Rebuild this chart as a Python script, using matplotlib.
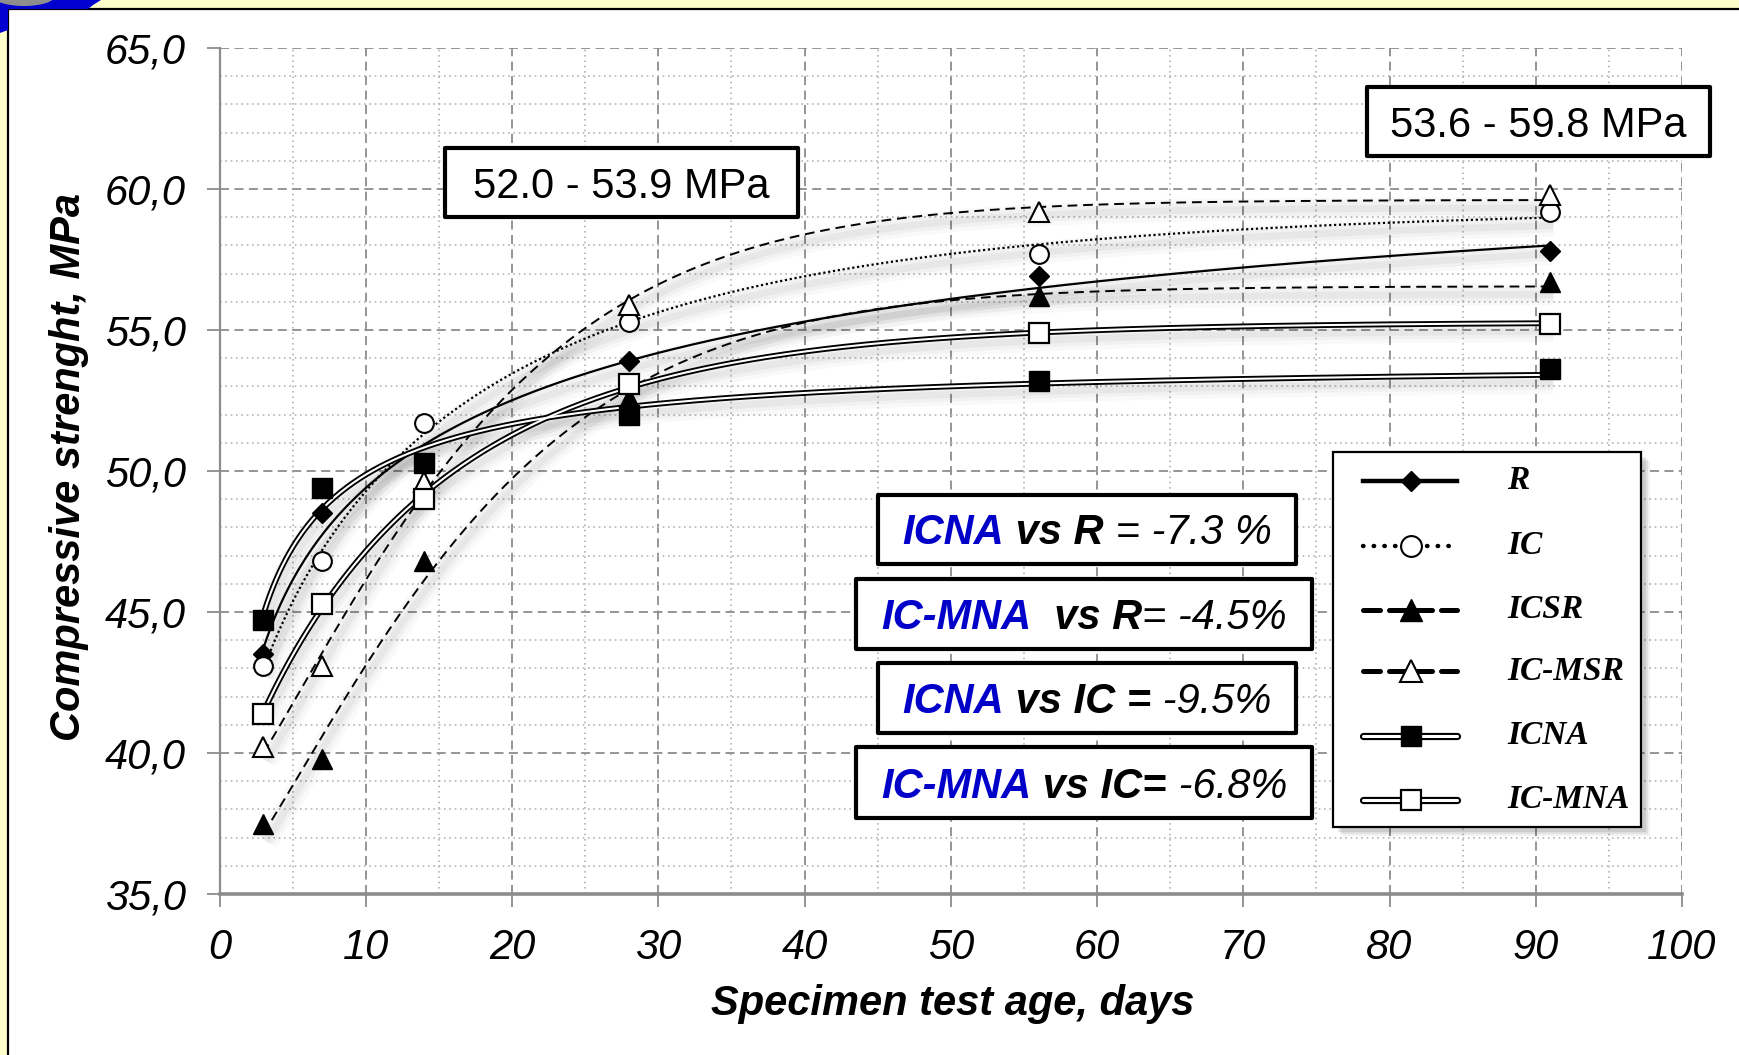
import numpy as np
import matplotlib
matplotlib.use("Agg")
import matplotlib.pyplot as plt
from matplotlib.lines import Line2D
from matplotlib.patches import Rectangle, Polygon, Ellipse
from matplotlib.offsetbox import TextArea, HPacker, AnnotationBbox
from matplotlib.transforms import ScaledTranslation
from matplotlib.ticker import MultipleLocator, FuncFormatter

plt.rcParams["font.family"] = ["Liberation Sans", "DejaVu Sans"]
plt.rcParams["font.style"] = "italic"

# ---------------------------------------------------------------- data
days = [3, 7, 14, 28, 56, 91]
strength_R = [43.5, 48.5, 50.2, 53.9, 56.9, 57.8]
strength_IC = [43.1, 46.8, 51.7, 55.3, 57.7, 59.2]
strength_ICSR = [37.5, 39.8, 46.8, 52.6, 56.2, 56.7]
strength_IC_MSR = [40.2, 43.1, 49.6, 55.9, 59.2, 59.8]
strength_ICNA = [44.7, 49.4, 50.3, 52.0, 53.2, 53.6]
strength_IC_MNA = [41.4, 45.3, 49.0, 53.1, 54.9, 55.2]

series_names = ["R", "IC", "ICSR", "IC-MSR", "ICNA", "IC-MNA"]
series_values = [strength_R, strength_IC, strength_ICSR,
                 strength_IC_MSR, strength_ICNA, strength_IC_MNA]

x_ticks = list(range(0, 101, 10))
y_ticks = [35, 40, 45, 50, 55, 60, 65]

range_labels = ["52.0 - 53.9 MPa", "53.6 - 59.8 MPa"]
comparison_labels = [
    ("ICNA", " vs R", " = -7.3 %"),
    ("IC-MNA", "  vs R", "= -4.5%"),
    ("ICNA", " vs IC =", " -9.5%"),
    ("IC-MNA", " vs IC=", " -6.8%"),
]

# ---------------------------------------------------------------- styles
W, H, DPI = 1739, 1055, 100
BLUE = "#0000C8"
GRID_MAJOR = "#8c8c8c"
GRID_MINOR = "#b4b4b4"


def fx(px):
    return px / W


def fy(py):
    return 1 - py / H


def fit_growth(t, y):
    """Least-squares fit of the saturating law y = a - b * exp(-c * t**p)."""
    t = np.asarray(t, float)
    y = np.asarray(y, float)
    p_grid = np.linspace(0.3, 1.5, 61)[:, None, None]
    c_grid = np.geomspace(0.003, 5.0, 700)[None, :, None]
    g = np.exp(-c_grid * t[None, None, :] ** p_grid)
    gm = g.mean(axis=-1, keepdims=True)
    ym = y.mean()
    cov = ((g - gm) * (y - ym)).sum(axis=-1)
    var = ((g - gm) ** 2).sum(axis=-1)
    var = np.where(var < 1e-12, np.nan, var)
    slope = cov / var
    err = ((y - ym) ** 2).sum() - cov ** 2 / var
    err = np.where(slope < 0, err, np.inf)
    err = np.where(np.isnan(err), np.inf, err)
    i, j = np.unravel_index(np.argmin(err), err.shape)
    p, c = p_grid[i, 0, 0], c_grid[0, j, 0]
    s = slope[i, j]
    a = ym - s * gm[i, j, 0]
    return lambda tt: a + s * np.exp(-c * np.asarray(tt) ** p)


line_styles = {
    "R": dict(kind="single", ls="-", lw=1.6),
    "IC": dict(kind="single", ls=(0, (1, 1.2)), lw=1.6),
    "ICSR": dict(kind="single", ls=(0, (5, 3)), lw=1.4),
    "IC-MSR": dict(kind="single", ls=(0, (5, 3)), lw=1.4),
    "ICNA": dict(kind="double"),
    "IC-MNA": dict(kind="double"),
}
marker_styles = {
    "R": dict(marker="D", ms=10, mfc="black", mec="black", mew=1.0),
    "IC": dict(marker="o", ms=13.5, mfc="white", mec="black", mew=1.5),
    "ICSR": dict(marker="^", ms=14.5, mfc="black", mec="black", mew=1.0),
    "IC-MSR": dict(marker="^", ms=14.5, mfc="white", mec="black", mew=1.5),
    "ICNA": dict(marker="s", ms=14, mfc="black", mec="black", mew=1.0),
    "IC-MNA": dict(marker="s", ms=14, mfc="white", mec="black", mew=1.6),
}

# ---------------------------------------------------------------- figure
fig = plt.figure(figsize=(W / DPI, H / DPI), dpi=DPI, facecolor="#FFFFCC")

# white panel framed on the left and top
panel = Rectangle((fx(8), -0.05), 1.2, 1.05 - 9 / H, transform=fig.transFigure,
                  facecolor="white", edgecolor="black", lw=1.6, zorder=-5)
fig.patches.append(panel)

# corner ornament
corner = Polygon([(fx(0), fy(0)), (fx(101), fy(0)), (fx(93), fy(5)),
                  (fx(88), fy(9)), (fx(8), fy(9)), (fx(8), fy(30)),
                  (fx(0), fy(33))], closed=True, transform=fig.transFigure,
                 facecolor="#0000D0", edgecolor="none", zorder=-4)
fig.patches.append(corner)
logo = Ellipse((fx(24), fy(-4)), 62 / W, 20 / H, transform=fig.transFigure,
               facecolor="#8e8e8e", edgecolor="none", zorder=-3)
fig.patches.append(logo)

ax = fig.add_axes([fx(219.6), fy(894), (1682 - 219.6) / W, (894 - 48) / H])
ax.set_facecolor("none")
ax.set_xlim(0, 100)
ax.set_ylim(35, 65)
ax.set_xticks(x_ticks)
ax.set_yticks(y_ticks)
ax.xaxis.set_minor_locator(MultipleLocator(5))
ax.yaxis.set_minor_locator(MultipleLocator(1))
ax.yaxis.set_major_formatter(FuncFormatter(lambda v, p: f"{v:.1f}".replace(".", ",")))
ax.grid(which="major", color=GRID_MAJOR, ls=(0, (5, 3)), lw=1.3)
ax.grid(which="minor", color=GRID_MINOR, ls=(0, (1, 2.2)), lw=1.2)
ax.set_axisbelow(True)
ax.tick_params(which="minor", length=0)
ax.tick_params(which="major", length=9.5, width=1.3, color=GRID_MAJOR,
               pad=15, labelsize=30)
for side in ("top", "right"):
    ax.spines[side].set_visible(False)
ax.spines["left"].set_color(GRID_MAJOR)
ax.spines["left"].set_linewidth(1.6)
ax.spines["bottom"].set_color(GRID_MAJOR)
ax.spines["bottom"].set_linewidth(2.6)

# ---------------------------------------------------------------- trend curves
t = np.linspace(days[0], days[-1], 400)
shadow_tr = ax.transData + ScaledTranslation(3 / DPI, -8 / DPI, fig.dpi_scale_trans)
for name, vals in zip(series_names, series_values):
    y = fit_growth(days, vals)(t)
    for lw, a in [(16, 0.022), (10, 0.03), (5, 0.04)]:
        ax.plot(t, y, color="black", lw=lw, alpha=a, transform=shadow_tr,
                solid_capstyle="butt", zorder=2)
    st = line_styles[name]
    if st["kind"] == "double":
        ax.plot(t, y, color="black", lw=4.2, solid_capstyle="butt", zorder=3)
        ax.plot(t, y, color="white", lw=1.5, solid_capstyle="butt", zorder=3.1)
    else:
        ax.plot(t, y, color="black", ls=st["ls"], lw=st["lw"], zorder=3)

# ---------------------------------------------------------------- markers
for name, vals in zip(series_names, series_values):
    ax.plot(days, vals, ls="none", zorder=5, **marker_styles[name])

# ---------------------------------------------------------------- axis labels
fig.text(fx(69), fy(467), "Compressive strenght, MPa", rotation=90,
         ha="center", va="center", fontsize=30, fontweight="bold")
fig.text(fx(953), fy(1004), "Specimen test age, days",
         ha="center", va="center", fontsize=30, fontweight="bold")


# ---------------------------------------------------------------- boxes
def framed_box(left, top, right, bottom, lw=3.0):
    r = Rectangle((fx(left + 2), fy(bottom - 2)), (right - left - 4) / W,
                  (bottom - top - 4) / H, transform=fig.transFigure,
                  facecolor="white", edgecolor="black", lw=lw,
                  joinstyle="round", zorder=10)
    fig.add_artist(r)


range_boxes = [(443, 146, 800, 219), (1365, 85, 1712, 158)]
for (l, tp, r, b), lbl in zip(range_boxes, range_labels):
    framed_box(l, tp, r, b)
    fig.text(fx((l + r) / 2), fy((tp + b) / 2 + 15), lbl, ha="center",
             va="baseline", fontsize=30, fontstyle="normal", zorder=11)

comparison_boxes = [(876, 493, 1298, 566), (854, 577, 1314, 651),
                    (876, 661, 1298, 735), (854, 745, 1314, 820)]
for (l, tp, r, b), (mix, vs, val) in zip(comparison_boxes, comparison_labels):
    framed_box(l, tp, r, b)
    parts = [
        TextArea(mix, textprops=dict(color=BLUE, fontsize=30, fontweight="bold",
                                     fontstyle="italic")),
        TextArea(vs, textprops=dict(color="black", fontsize=30, fontweight="bold",
                                    fontstyle="italic")),
        TextArea(val, textprops=dict(color="black", fontsize=30,
                                     fontstyle="italic")),
    ]
    pack = HPacker(children=parts, align="baseline", pad=0, sep=0)
    ab = AnnotationBbox(pack, (fx((l + r) / 2), fy((tp + b) / 2 + 4)),
                        xycoords="figure fraction", box_alignment=(0.5, 0.5),
                        frameon=False, pad=0, zorder=11)
    fig.add_artist(ab)

# ---------------------------------------------------------------- legend
leg_l, leg_t, leg_r, leg_b = 1333, 452, 1641, 827
for off, a in [(9, 0.05), (7, 0.07), (5, 0.09)]:
    fig.add_artist(Rectangle((fx(leg_l + off), fy(leg_b + off)),
                             (leg_r - leg_l) / W, (leg_b - leg_t) / H,
                             transform=fig.transFigure, facecolor="black",
                             edgecolor="none", alpha=a, zorder=9))
fig.add_artist(Rectangle((fx(leg_l), fy(leg_b)), (leg_r - leg_l) / W,
                         (leg_b - leg_t) / H, transform=fig.transFigure,
                         facecolor="white", edgecolor="black", lw=1.6, zorder=10))

row_y = [481, 546, 610, 671, 736, 800]
x1, x2, xm, xt = 1363, 1457, 1411, 1507
legend_lines = {
    "R": dict(ls="-", lw=3.2),
    "IC": dict(ls=(0, (0.1, 2.3)), lw=3.2, dash_capstyle="round"),
    "ICSR": dict(ls=(0, (3.4, 1.8)), lw=3.6, dash_capstyle="round"),
    "IC-MSR": dict(ls=(0, (3.4, 1.8)), lw=3.6, dash_capstyle="round"),
}
legend_markers = {
    "R": dict(marker="D", ms=10.5, mfc="black", mec="black"),
    "IC": dict(marker="o", ms=15, mfc="white", mec="black", mew=1.5),
    "ICSR": dict(marker="^", ms=16, mfc="black", mec="black"),
    "IC-MSR": dict(marker="^", ms=16, mfc="white", mec="black", mew=1.5),
    "ICNA": dict(marker="s", ms=15, mfc="black", mec="black"),
    "IC-MNA": dict(marker="s", ms=15, mfc="white", mec="black", mew=1.6),
}
for name, ry in zip(series_names, row_y):
    xs = [fx(x1), fx(x2)]
    ys = [fy(ry), fy(ry)]
    if name in legend_lines:
        fig.add_artist(Line2D(xs, ys, color="black", transform=fig.transFigure,
                              zorder=11, **legend_lines[name]))
    else:
        fig.add_artist(Line2D(xs, ys, color="black", lw=5.2,
                              solid_capstyle="round", transform=fig.transFigure,
                              zorder=11))
        fig.add_artist(Line2D(xs, ys, color="white", lw=2.2,
                              solid_capstyle="round", transform=fig.transFigure,
                              zorder=11.1))
    fig.add_artist(Line2D([fx(xm)], [fy(ry)], ls="none", transform=fig.transFigure,
                          zorder=12, **legend_markers[name]))
    fig.text(fx(xt), fy(ry), name, ha="left", va="center", fontsize=24,
             fontweight="bold", fontstyle="italic",
             family=["Liberation Serif", "DejaVu Serif"], zorder=12)

fig.savefig("out.png", dpi=DPI, facecolor=fig.get_facecolor())
